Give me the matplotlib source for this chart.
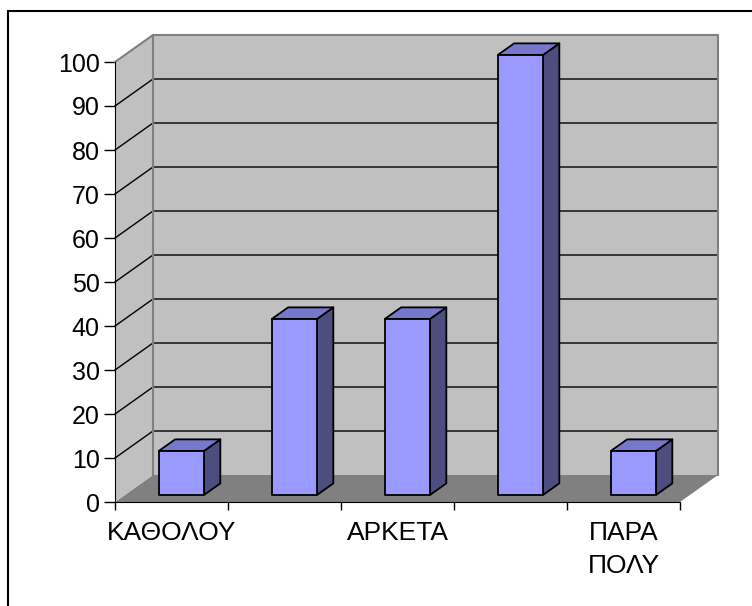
import matplotlib
matplotlib.use("Agg")
import matplotlib.pyplot as plt
from matplotlib.patches import Polygon, Rectangle

# category labels as shown (Excel skipped every second label)
labels = ["ΚΑΘΟΛΟΥ", "", "ΑΡΚΕΤΑ", "", "ΠΑΡΑ\nΠΟΛΥ"]
values = [10, 40, 40, 100, 10]
yticks = list(range(0, 101, 10))

plt.rcParams['font.family'] = ['Liberation Sans', 'DejaVu Sans']

fig = plt.figure(figsize=(7.52, 6.06), dpi=100)
ax = fig.add_axes([115 / 752, 104 / 606, 565 / 752, 440 / 606])

n = len(values)
ymax = 100
dx = 38 / 113          # depth offset, category units
dy = 27 / 4.4          # depth offset, value units

wall = "#c0c0c0"
edge = "#808080"

# floor
ax.add_patch(Polygon([(0, 0), (n, 0), (n + dx, dy), (dx, dy)], closed=True,
                     facecolor="#808080", edgecolor="none", clip_on=False, zorder=1))
# side wall
ax.add_patch(Polygon([(0, 0), (dx, dy), (dx, ymax + dy), (0, ymax)], closed=True,
                     facecolor=wall, edgecolor="none", clip_on=False, zorder=1))
# back wall
ax.add_patch(Rectangle((dx, dy), n, ymax, facecolor=wall, edgecolor="none",
                       clip_on=False, zorder=1))

# gridlines
for v in yticks[1:-1]:
    ax.plot([0, dx, n + dx], [v, v + dy, v + dy], color="black", lw=1,
            clip_on=False, zorder=2)

# wall edges
ax.plot([0, dx, n + dx, n + dx], [ymax, ymax + dy, ymax + dy, dy], color=edge,
        lw=1.5, clip_on=False, zorder=2)
ax.plot([dx, dx], [dy, ymax + dy], color=edge, lw=1.5, clip_on=False, zorder=2)

# bars
w = 0.4
d0, d1 = 0.26, 0.69
for i, v in enumerate(values):
    x0 = i + 0.5 - w / 2 + d0 * dx
    y0 = d0 * dy
    ox, oy = (d1 - d0) * dx, (d1 - d0) * dy
    front = [(x0, y0), (x0 + w, y0), (x0 + w, y0 + v), (x0, y0 + v)]
    side = [(x0 + w, y0), (x0 + w + ox, y0 + oy), (x0 + w + ox, y0 + v + oy), (x0 + w, y0 + v)]
    top = [(x0, y0 + v), (x0 + w, y0 + v), (x0 + w + ox, y0 + v + oy), (x0 + ox, y0 + v + oy)]
    for pts, col in [(side, "#4d4d80"), (top, "#7777cc"), (front, "#9999ff")]:
        ax.add_patch(Polygon(pts, closed=True, facecolor=col, edgecolor="black",
                             lw=1.3, joinstyle="round", clip_on=False, zorder=3))

ax.set_xlim(0, n)
ax.set_ylim(0, ymax)
ax.set_facecolor("none")
for s in ["top", "right"]:
    ax.spines[s].set_visible(False)
ax.spines["left"].set_color("black")
ax.spines["bottom"].set_color("black")
ax.spines["left"].set_zorder(4)
ax.spines["bottom"].set_zorder(4)

ax.set_yticks(yticks)
ax.tick_params(axis="y", direction="out", length=8, width=1, pad=3, labelsize=18)

ax.set_xticks(range(n + 1))
ax.set_xticklabels([])
ax.set_xticks([i + 0.5 for i in range(n)], minor=True)
ax.set_xticklabels(labels, minor=True, fontsize=19, linespacing=1.45)
ax.tick_params(axis="x", which="major", direction="out", length=6, width=1)
ax.tick_params(axis="x", which="minor", length=0, pad=14)

# outer frame
fig.add_artist(Rectangle((8 / 752, -0.1), 1.0, 1.1 - 11 / 606, transform=fig.transFigure,
                         facecolor="none", edgecolor="black", lw=1.5))

fig.savefig("out.png", dpi=100)
